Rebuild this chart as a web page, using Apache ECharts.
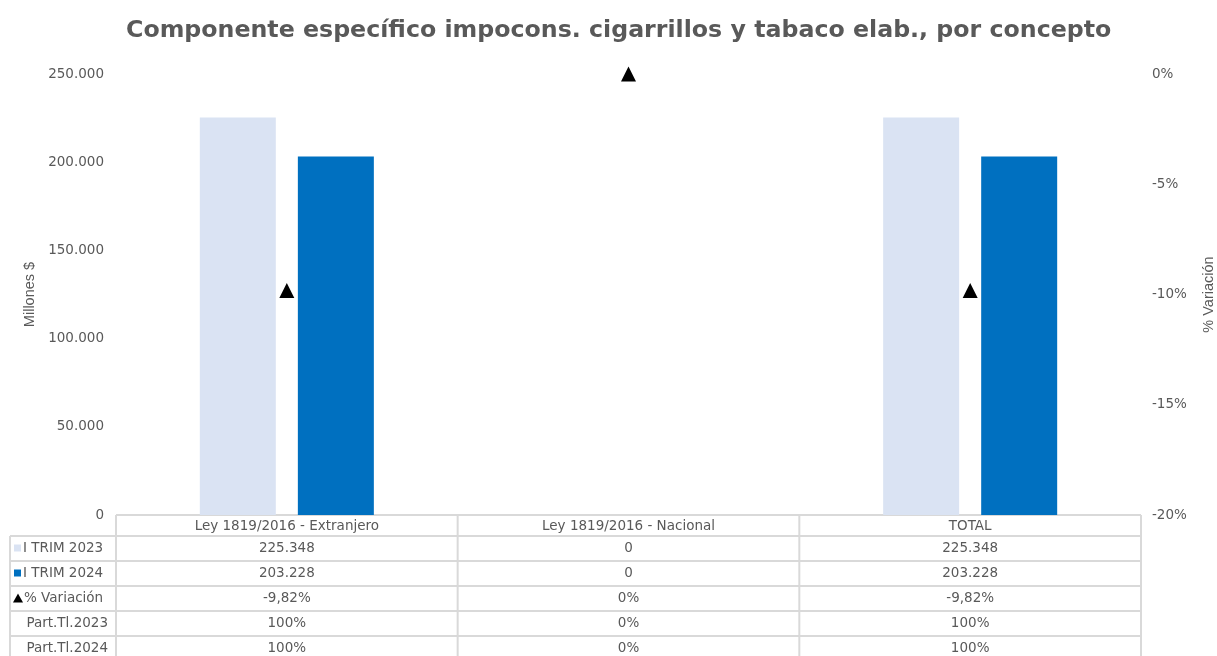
<!DOCTYPE html>
<html>
<head>
<meta charset="utf-8">
<script src="https://cdn.jsdelivr.net/npm/echarts@6/dist/echarts.min.js"></script>
<style>
html,body{margin:0;padding:0;background:#fff;}
#main{width:1217px;height:656px;}
</style>
</head>
<body>
<div id="main"></div>
<script>
var categories = ['Ley 1819/2016 - Extranjero', 'Ley 1819/2016 - Nacional', 'TOTAL'];
var trim2023 = [225348, 0, 225348];
var trim2024 = [203228, 0, 203228];
var variacion = [-9.82, 0, -9.82];
var part2023 = [100, 0, 100];
var part2024 = [100, 0, 100];
var leftTicks = { min: 0, max: 250000, interval: 50000 };
var rightTicks = { min: -20, max: 0, interval: 5 };

var FONT = 'DejaVu Sans';
var NAMEFONT = 'Liberation Sans';
var TXT = '#595959';
var C23 = '#dae3f3';
var C24 = '#0070c0';
var FS = 13.5;

function fmtNum(v) {
  return String(Math.round(v)).replace(/\B(?=(\d{3})+(?!\d))/g, '.');
}
function fmtPct(v, dec) {
  if (v === 0) return '0%';
  return v.toFixed(dec).replace('.', ',') + '%';
}

var GL = 116, GR = 1141, GB = 515;
var colW = (GR - GL) / categories.length;
var rowsY = [515, 536, 561, 586, 611, 636, 661];
var LC = 10;
var lineC = '#d9d9d9';

var g = [];
function hline(x1, x2, y) {
  g.push({ type: 'line', shape: { x1: x1, y1: y, x2: x2, y2: y }, style: { stroke: lineC, lineWidth: 2 }, silent: true });
}
function vline(x, y1, y2) {
  g.push({ type: 'line', shape: { x1: x, y1: y1, x2: x, y2: y2 }, style: { stroke: lineC, lineWidth: 2 }, silent: true });
}
function txt(x, y, s, align) {
  g.push({ type: 'text', x: x, y: y, style: { text: s, fill: TXT, fontSize: FS, fontFamily: FONT, align: align || 'center', verticalAlign: 'middle' }, silent: true });
}
hline(GL, GR, rowsY[0]);
for (var r = 1; r < rowsY.length - 1; r++) hline(LC, GR, rowsY[r]);
vline(LC, rowsY[1], 656);
for (var c = 0; c <= categories.length; c++) vline(GL + c * colW, rowsY[0], 656);

var rowData = [
  { label: 'I TRIM 2023', icon: 'sq', color: C23, vals: trim2023.map(fmtNum) },
  { label: 'I TRIM 2024', icon: 'sq', color: C24, vals: trim2024.map(fmtNum) },
  { label: '% Variación', icon: 'tri', color: '#000', vals: variacion.map(function (v) { return fmtPct(v, 2); }) },
  { label: 'Part.Tl.2023', icon: null, vals: part2023.map(function (v) { return fmtPct(v, 0); }) },
  { label: 'Part.Tl.2024', icon: null, vals: part2024.map(function (v) { return fmtPct(v, 0); }) }
];
categories.forEach(function (cat, i) {
  txt(GL + (i + 0.5) * colW, (rowsY[0] + rowsY[1]) / 2 + 1, cat);
});
rowData.forEach(function (rd, r) {
  var yc = (rowsY[r + 1] + rowsY[r + 2]) / 2;
  if (rd.icon === 'sq') {
    g.push({ type: 'rect', shape: { x: 14, y: yc - 4, width: 7, height: 7 }, style: { fill: rd.color }, silent: true });
    txt(23, yc, rd.label, 'left');
  } else if (rd.icon === 'tri') {
    g.push({ type: 'polygon', shape: { points: [[13, yc + 4], [23, yc + 4], [18, yc - 5]] }, style: { fill: '#000' }, silent: true });
    txt(24, yc, rd.label, 'left');
  } else {
    txt(108, yc, rd.label, 'right');
  }
  rd.vals.forEach(function (v, i) {
    txt(GL + (i + 0.5) * colW, yc, v);
  });
});

var chart = echarts.init(document.getElementById('main'));
chart.setOption({
  animation: false,
  backgroundColor: '#fff',
  textStyle: { fontFamily: FONT },
  title: {
    text: 'Componente específico impocons. cigarrillos y tabaco elab., por concepto',
    left: 121,
    top: 14,
    textStyle: { fontFamily: FONT, fontSize: 23.7, fontWeight: 'bold', color: TXT }
  },
  grid: { left: GL, right: 1217 - GR, top: 74, bottom: 656 - GB, containLabel: false, outerBoundsMode: 'none' },
  xAxis: {
    type: 'category',
    data: categories,
    axisLine: { show: false },
    axisTick: { show: false },
    axisLabel: { show: false }
  },
  yAxis: [
    {
      type: 'value', min: leftTicks.min, max: leftTicks.max, interval: leftTicks.interval,
      name: 'Millones $', nameLocation: 'middle', nameGap: 75, nameRotate: 90,
      nameTextStyle: { color: TXT, fontSize: 14.5, fontFamily: NAMEFONT },
      axisLine: { show: false }, axisTick: { show: false }, splitLine: { show: false },
      axisLabel: { color: TXT, fontSize: FS, fontFamily: FONT, margin: 12, formatter: function (v) { return fmtNum(v); } }
    },
    {
      type: 'value', min: rightTicks.min, max: rightTicks.max, interval: rightTicks.interval,
      name: '% Variación', nameLocation: 'middle', nameGap: 60, nameRotate: 90,
      nameTextStyle: { color: TXT, fontSize: 14.5, fontFamily: NAMEFONT },
      axisLine: { show: false }, axisTick: { show: false }, splitLine: { show: false },
      axisLabel: { color: TXT, fontSize: FS, fontFamily: FONT, margin: 11, formatter: '{value}%' }
    }
  ],
  series: [
    { name: 'I TRIM 2023', type: 'bar', data: trim2023, itemStyle: { color: C23 }, barWidth: 76, barGap: '29%' },
    { name: 'I TRIM 2024', type: 'bar', data: trim2024, itemStyle: { color: C24 }, barWidth: 76 },
    { name: '% Variación', type: 'scatter', yAxisIndex: 1, data: variacion, symbol: 'triangle', symbolSize: [15, 15], itemStyle: { color: '#000', opacity: 1 }, z: 5 }
  ],
  graphic: g
});
</script>
</body>
</html>
